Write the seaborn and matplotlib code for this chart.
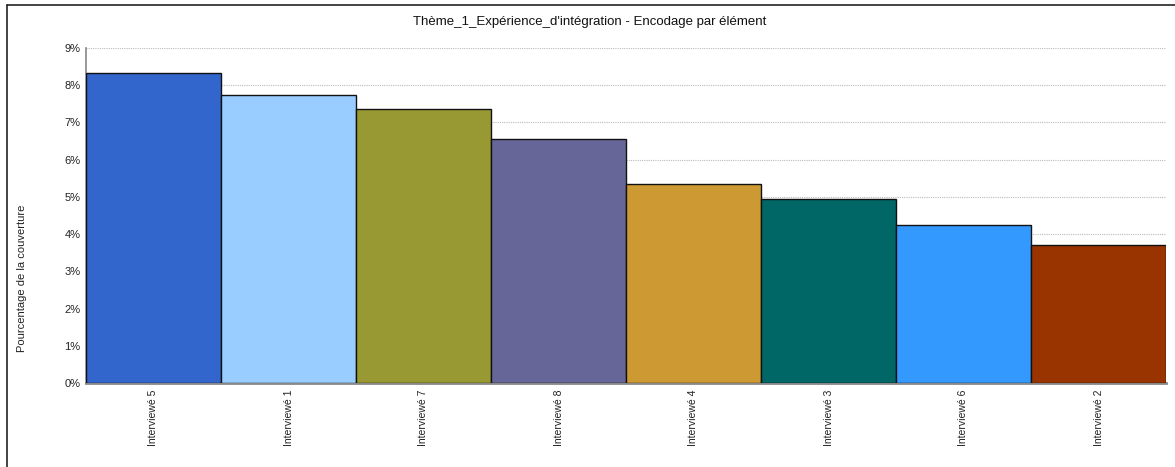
import matplotlib
matplotlib.use("Agg")
import matplotlib.pyplot as plt
import seaborn as sns
import pandas as pd
from matplotlib.ticker import FuncFormatter
from matplotlib.lines import Line2D

categories = ["Interviewé 5", "Interviewé 1", "Interviewé 7", "Interviewé 8",
              "Interviewé 4", "Interviewé 3", "Interviewé 6", "Interviewé 2"]
values = [8.33, 7.74, 7.36, 6.56, 5.35, 4.94, 4.25, 3.71]
colors = ["#3366CC", "#99CCFF", "#999933", "#666699",
          "#CC9933", "#006666", "#3399FF", "#993300"]
y_ticks = [0, 1, 2, 3, 4, 5, 6, 7, 8, 9]

sns.set_theme(style="white")
plt.rcParams['font.family'] = ['Liberation Sans', 'DejaVu Sans']

df = pd.DataFrame({"cat": categories, "val": values})

fig = plt.figure(figsize=(11.75, 4.67), dpi=100)
ax = fig.add_axes([86/1175, 1-383/467, (1166-86)/1175, (383-48)/467])

sns.barplot(data=df, x="cat", y="val", hue="cat", order=categories,
            hue_order=categories, palette=colors, saturation=1, width=1.0,
            edgecolor="#111111", linewidth=1.0, legend=False, ax=ax,
            zorder=3)

ax.set_xlim(-0.5, len(categories) - 0.5)
ax.set_ylim(0, 9)
ax.set_yticks(y_ticks)
ax.yaxis.set_major_formatter(FuncFormatter(lambda v, p: f"{int(v)}%"))
ax.grid(axis="y", color="#BBBBBB", linestyle=(0, (1, 1)), linewidth=0.8, zorder=0)
ax.set_axisbelow(True)

for s in ["top", "right"]:
    ax.spines[s].set_visible(False)
ax.spines["left"].set_color("#888888")
ax.spines["left"].set_linewidth(1.2)
ax.spines["bottom"].set_color("#888888")
ax.spines["bottom"].set_linewidth(2.0)

ax.tick_params(axis="x", labelrotation=90, labelsize=7.5, length=0, pad=5, colors="#222222")
ax.tick_params(axis="y", labelsize=8, length=0, pad=4, colors="#222222")
ax.set_xlabel("")
ax.set_ylabel("Pourcentage de la couverture", fontsize=8, color="#222222")
ax.yaxis.set_label_coords((27 - 86) / 1080, (383 - 278) / 335)

fig.text(590/1175, 1-22/467, "Thème_1_Expérience_d'intégration - Encodage par élément",
         ha="center", va="center", fontsize=9.5, color="#111111")

# partial frame (top and left border lines)
fig.add_artist(Line2D([7/1175, 7/1175], [0, 1-5/467], transform=fig.transFigure,
                      color="#111111", linewidth=1.1))
fig.add_artist(Line2D([7/1175, 1], [1-5/467, 1-5/467], transform=fig.transFigure,
                      color="#111111", linewidth=1.1))

fig.savefig("out.png", dpi=100)
